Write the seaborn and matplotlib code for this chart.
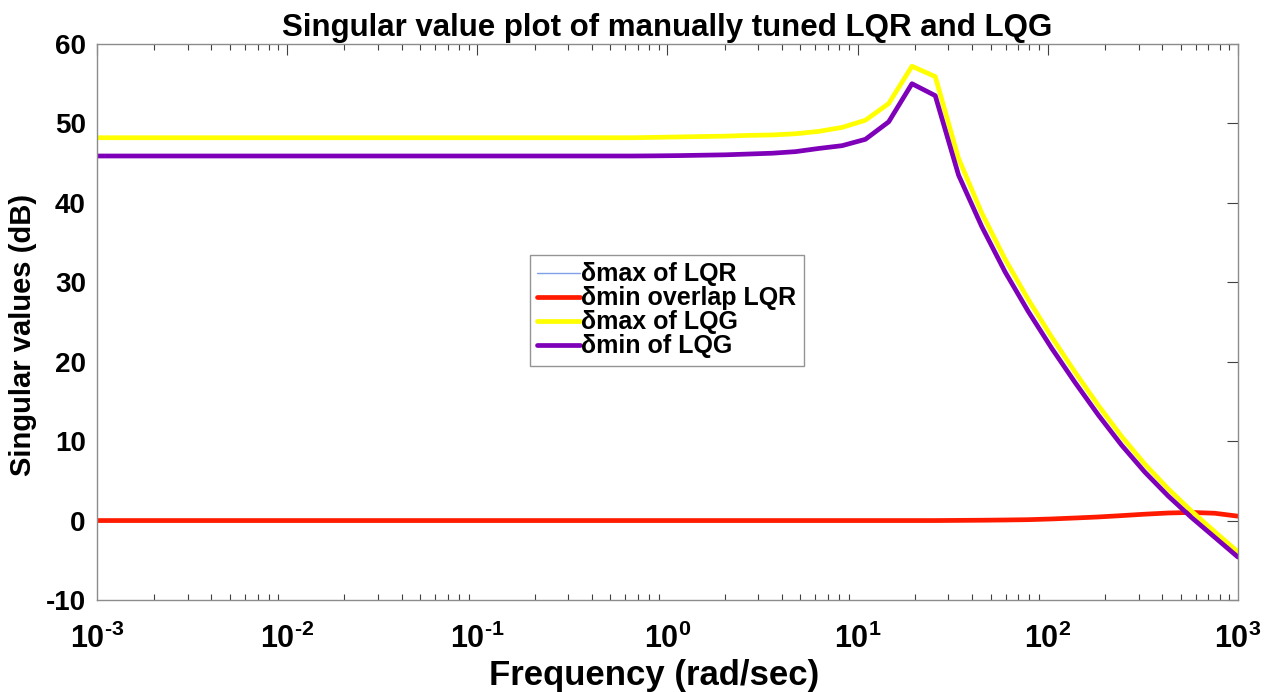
import numpy as np
import pandas as pd
import matplotlib
matplotlib.use("Agg")
import matplotlib.pyplot as plt
import seaborn as sns
from matplotlib.ticker import FixedLocator, LogLocator, NullFormatter

# Frequency grid (rad/sec): 50 log-spaced samples, 1e-3 .. 1e3
freq = np.logspace(-3, 3, 50)

# Singular values (dB) on that grid
lqr_max = [0.0] * 37 + [0.02, 0.04, 0.07, 0.11, 0.2, 0.32, 0.45, 0.62, 0.8,
                        0.95, 1.02, 0.92, 0.55]
lqr_min = [0.0] * 37 + [0.02, 0.04, 0.07, 0.11, 0.2, 0.32, 0.45, 0.62, 0.8,
                        0.95, 1.02, 0.92, 0.55]
lqg_max = [48.2] * 24 + [48.25, 48.3, 48.35, 48.4, 48.5, 48.55, 48.7, 49.0,
                         49.5, 50.4, 52.5, 57.2, 55.9, 45.6, 38.7, 32.9,
                         27.8, 23.1, 18.7, 14.5, 10.6, 7.1, 4.0, 1.2, -1.4,
                         -3.95]
lqg_min = [45.9] * 24 + [45.92, 45.95, 46.0, 46.05, 46.15, 46.25, 46.45,
                         46.85, 47.2, 48.0, 50.2, 55.0, 53.5, 43.5, 37.0,
                         31.3, 26.3, 21.7, 17.4, 13.3, 9.5, 6.1, 3.1, 0.4,
                         -2.1, -4.6]

labels = ["\u03b4max of LQR", "\u03b4min overlap LQR",
          "\u03b4max of LQG", "\u03b4min of LQG"]
colors = ["#7f9fe8", "#ff1a00", "#ffff00", "#7e00b8"]
widths = [1.0, 3.4, 3.4, 3.4]

df = pd.DataFrame({
    "freq": np.tile(freq, 4),
    "sv": np.concatenate([lqr_max, lqr_min, lqg_max, lqg_min]),
    "series": np.repeat(labels, len(freq)),
})

sns.set_theme(style="white")
plt.rcParams["font.family"] = ["Liberation Sans", "DejaVu Sans"]
plt.rcParams["font.weight"] = "bold"
plt.rcParams["text.color"] = "black"
plt.rcParams["axes.labelcolor"] = "black"
plt.rcParams["mathtext.fontset"] = "custom"
plt.rcParams["mathtext.rm"] = "Liberation Sans:bold"
plt.rcParams["mathtext.bf"] = "Liberation Sans:bold"
plt.rcParams["mathtext.default"] = "bf"

fig = plt.figure(figsize=(12.71, 6.92), dpi=100)
ax = fig.add_axes([0.0763, 0.133, 0.8977, 0.8034])

for lab, col, lw in zip(labels, colors, widths):
    sns.lineplot(data=df[df["series"] == lab], x="freq", y="sv", ax=ax,
                 color=col, linewidth=lw, label=lab, legend=False)

ax.set_xscale("log")
ax.set_xlim(1e-3, 1e3)
ax.set_ylim(-10, 60)

yt = [-10, 0, 10, 20, 30, 40, 50, 60]
ax.yaxis.set_major_locator(FixedLocator(yt))
ax.set_yticklabels([str(v) for v in yt], fontsize=20, fontweight="bold")

xt = [1e-3, 1e-2, 1e-1, 1e0, 1e1, 1e2, 1e3]
ax.xaxis.set_major_locator(FixedLocator(xt))
ax.set_xticklabels([r"$10^{\text{%d}}$" % e for e in range(-3, 4)], fontsize=22)
ax.xaxis.set_minor_locator(LogLocator(base=10, subs=np.arange(2, 10), numticks=100))
ax.xaxis.set_minor_formatter(NullFormatter())

ax.tick_params(axis="both", which="major", direction="in", length=8,
               width=0.8, color="#404040", top=True, right=True,
               pad=8, labelcolor="black")
ax.tick_params(axis="x", which="minor", direction="in", length=4,
               width=0.8, color="#404040", top=True, bottom=True)
ax.tick_params(axis="x", which="major", pad=17)

for s in ax.spines.values():
    s.set_color("#8c8c8c")
    s.set_linewidth(1.0)

ax.set_title("Singular value plot of manually tuned LQR and LQG",
             fontsize=22.5, fontweight="bold", pad=6)
ax.set_xlabel("Frequency (rad/sec)", fontsize=25, fontweight="bold")
ax.xaxis.set_label_coords(0.488, -0.107)
ax.set_ylabel("Singular values (dB)", fontsize=21, fontweight="bold")
ax.yaxis.set_label_coords(-0.053, 0.4766)

leg = ax.legend(loc="upper left", bbox_to_anchor=(0.3795, 0.6205),
                borderaxespad=0, fancybox=False, frameon=True,
                prop={"size": 18, "weight": "bold"},
                handlelength=1.7, handletextpad=0.05, labelspacing=0.0,
                borderpad=0.3)
leg.get_frame().set_edgecolor("#7a7a7a")
leg.get_frame().set_linewidth(1.0)

fig.savefig("out.png", dpi=100)
